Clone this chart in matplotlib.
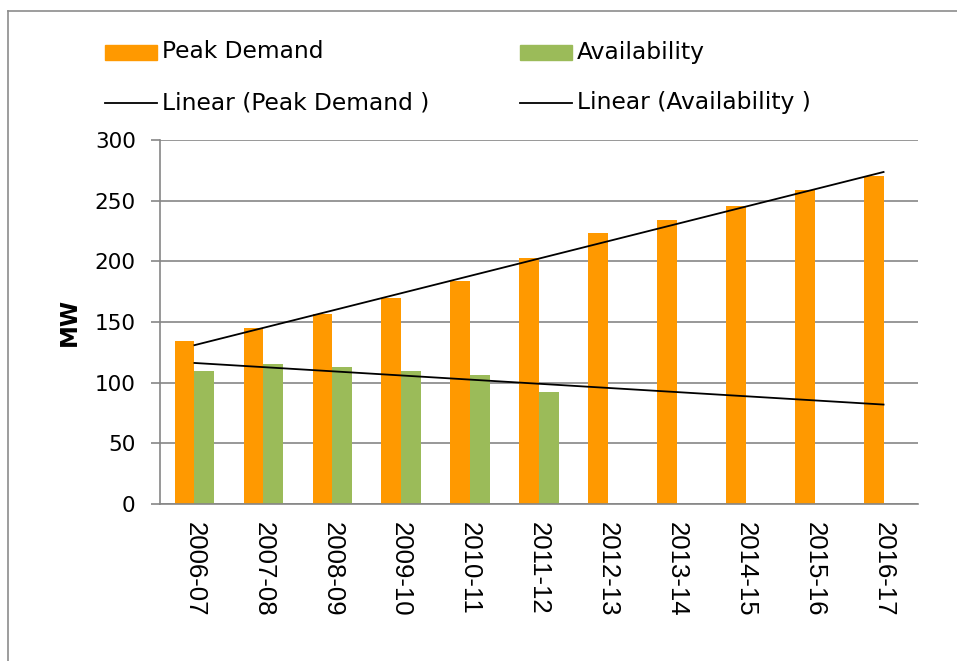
import numpy as np
import matplotlib
matplotlib.use("Agg")
import matplotlib.pyplot as plt
from matplotlib.patches import Rectangle
from matplotlib.lines import Line2D

# data
years = ["2006-07", "2007-08", "2008-09", "2009-10", "2010-11", "2011-12",
         "2012-13", "2013-14", "2014-15", "2015-16", "2016-17"]
peak_demand = [134, 145, 157, 170, 184, 203, 223, 234, 246, 259, 270]
availability = [110, 115, 113, 110, 106, 92]

orange = "#FF9900"
green = "#9BBB59"
grid_col = "#868686"

fig = plt.figure(figsize=(9.57, 6.61), dpi=100)
ax = fig.add_axes([160 / 957, 1 - 504 / 661, 758 / 957, 364 / 661])

x = np.arange(len(years))
xa = np.arange(len(availability))
w = 1 / 3.5

ax.bar(x - w / 2, peak_demand, width=w, color=orange, zorder=2)
ax.bar(xa + w / 2, availability, width=w, color=green, zorder=2)

# linear trendlines (least squares, like Excel), availability projected forward
p1 = np.polyfit(x, peak_demand, 1)
p2 = np.polyfit(xa, availability, 1)
ax.plot(x, np.polyval(p1, x), color="black", lw=1.3, zorder=3)
ax.plot(x, np.polyval(p2, x), color="black", lw=1.3, zorder=3)

ax.set_xlim(-0.5, len(years) - 0.5)
ax.set_ylim(0, 300)
ax.set_yticks(range(0, 301, 50))
ax.set_xticks(x)
ax.set_xticklabels(years, rotation=-90, fontsize=18.5, family="Liberation Sans")
ax.tick_params(axis="y", labelsize=15.5, length=6.5, width=1.2, color=grid_col, pad=11)
ax.tick_params(axis="x", length=0, pad=13)
ax.yaxis.grid(True, color=grid_col, lw=1.2, zorder=0)
ax.set_axisbelow(True)
for s in ["top", "right"]:
    ax.spines[s].set_visible(False)
for s in ["left", "bottom"]:
    ax.spines[s].set_color(grid_col)
    ax.spines[s].set_linewidth(1.2)
ax.set_ylabel("MW", fontsize=16.5, fontweight="bold", labelpad=10)

# legend drawn by hand, two columns above the plot
def fx(px):
    return px / 957

def fy(py):
    return 1 - py / 661

entries = [
    ("patch", orange, "Peak Demand", 105, 52),
    ("patch", green, "Availability", 520, 52),
    ("line", "black", "Linear (Peak Demand )", 105, 103),
    ("line", "black", "Linear (Availability )", 520, 103),
]
for kind, col, label, px, py in entries:
    if kind == "patch":
        fig.add_artist(Rectangle((fx(px), fy(py + 7.5)), fx(52), 15 / 661,
                                 color=col, transform=fig.transFigure))
    else:
        fig.add_artist(Line2D([fx(px), fx(px + 52)], [fy(py), fy(py)],
                              color=col, lw=1.3, transform=fig.transFigure))
    fig.text(fx(px + 57), fy(py), label, fontsize=16.8, va="center", ha="left")

# chart border (clipped on right and bottom in the reference)
fig.add_artist(Line2D([fx(8), fx(8)], [fy(11), 0], color="#8c8c8c", lw=1.2,
                      transform=fig.transFigure))
fig.add_artist(Line2D([fx(8), 1], [fy(11), fy(11)], color="#8c8c8c", lw=1.2,
                      transform=fig.transFigure))

fig.savefig("out.png", dpi=100)
